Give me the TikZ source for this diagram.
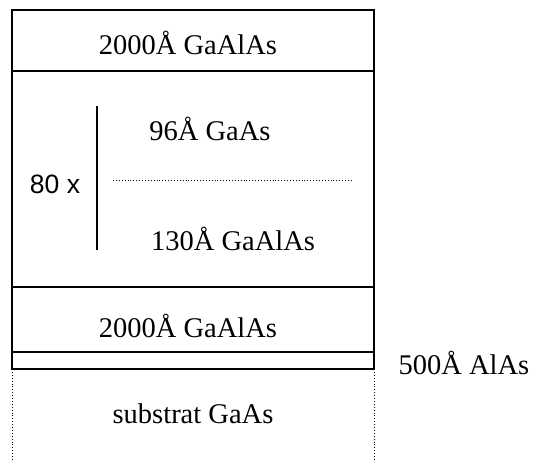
\documentclass[tikz,border=0pt]{standalone}
\usepackage{fontspec}
\setmainfont{Liberation Serif}
\newfontfamily\helv{Liberation Sans}
\begin{document}
\begin{tikzpicture}[x=1pt,y=-1pt,
  lbl/.style={font=\fontsize{28.5}{32}\selectfont, inner sep=0pt},
  box/.style={draw, line width=1.4pt},
  side/.style={draw, dotted, line width=0.9pt}]
\useasboundingbox (0,0) rectangle (548,462);
% layers
\draw[box] (12,10) rectangle (374,369);
\draw[box] (12,71) -- (374,71);
\draw[box] (12,287) -- (374,287);
\draw[box] (12,352) -- (374,352);
% substrate dotted sides
\draw[side] (12,369) -- (12,462);
\draw[side] (374,369) -- (374,462);
% labels
\node[lbl] (top) at (188,43) {2000Å GaAlAs};
\node[lbl] (qw) at (210,129) {96Å GaAs};
\node[lbl] (bar) at (233,239) {130Å GaAlAs};
\node[lbl, font=\helv\fontsize{26.5}{30}\selectfont] (rep) at (55,184) {80 x};
\node[lbl] (bot) at (188,326) {2000Å GaAlAs};
\node[lbl] (alas) at (464,363) {500Å AlAs};
\node[lbl] (sub) at (193,414) {substrat GaAs};
% period bracket and separator
\coordinate (b1) at (97,106);
\coordinate (b2) at (97,250);
\draw[line width=2pt] (b1) -- (b2);
\coordinate (d1) at (113,180);
\coordinate (d2) at (352,180);
\draw[dotted, line width=0.9pt] (d1) -- (d2);
\end{tikzpicture}
\end{document}
